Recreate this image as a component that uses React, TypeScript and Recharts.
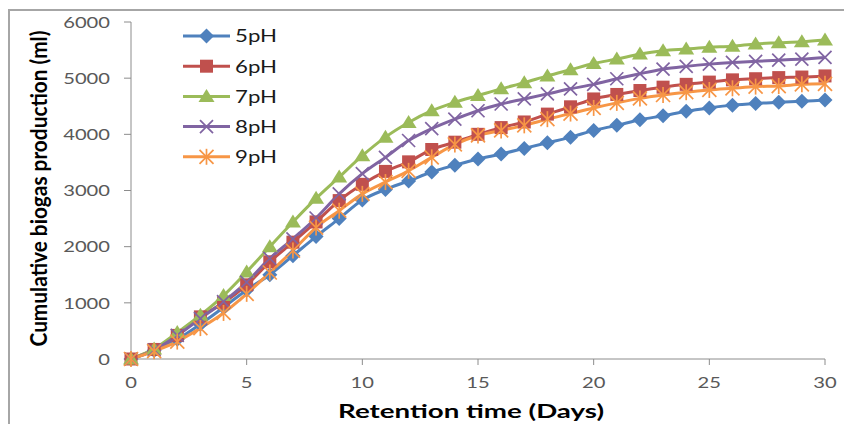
import React from "react";
import { LineChart, Line, XAxis, YAxis, Legend } from "recharts";

const days = [0, 1, 2, 3, 4, 5, 6, 7, 8, 9, 10, 11, 12, 13, 14, 15, 16, 17, 18, 19, 20, 21, 22, 23, 24, 25, 26, 27, 28, 29, 30];
const ph5 = [0, 150, 350, 620, 920, 1230, 1500, 1840, 2180, 2500, 2830, 3020, 3170, 3330, 3450, 3560, 3650, 3750, 3850, 3950, 4070, 4160, 4260, 4330, 4410, 4470, 4520, 4550, 4570, 4590, 4610];
const ph6 = [0, 170, 420, 750, 1000, 1320, 1730, 2080, 2440, 2820, 3110, 3340, 3510, 3730, 3860, 4000, 4120, 4220, 4360, 4490, 4630, 4710, 4780, 4840, 4890, 4930, 4970, 4990, 5010, 5020, 5040];
const ph7 = [0, 180, 470, 780, 1130, 1550, 2000, 2440, 2860, 3240, 3620, 3950, 4210, 4420, 4570, 4690, 4810, 4920, 5040, 5150, 5260, 5340, 5430, 5490, 5520, 5550, 5570, 5610, 5630, 5650, 5680];
const ph8 = [0, 160, 420, 720, 1020, 1370, 1790, 2140, 2510, 2940, 3300, 3590, 3890, 4100, 4270, 4420, 4540, 4630, 4720, 4810, 4890, 4990, 5080, 5160, 5210, 5250, 5280, 5300, 5320, 5340, 5370];
const ph9 = [0, 140, 310, 550, 820, 1160, 1540, 1930, 2340, 2640, 2940, 3150, 3350, 3590, 3820, 3980, 4070, 4160, 4270, 4370, 4470, 4560, 4640, 4700, 4750, 4790, 4820, 4850, 4860, 4890, 4900];

const seriesNames = ["5pH", "6pH", "7pH", "8pH", "9pH"];
const seriesKeys = ["ph5", "ph6", "ph7", "ph8", "ph9"];
const seriesColors = ["#4F81BD", "#C0504D", "#9BBB59", "#8064A2", "#F79646"];
const seriesShapes = ["diamond", "square", "triangle", "x", "star"];

const xTicks = [0, 5, 10, 15, 20, 25, 30];
const yTicks = [0, 1000, 2000, 3000, 4000, 5000, 6000];

const xTitle = "Retention time (Days)";
const yTitle = "Cumulative biogas production (ml)";

const data = days.map((d, i) => ({
  day: d,
  ph5: ph5[i],
  ph6: ph6[i],
  ph7: ph7[i],
  ph8: ph8[i],
  ph9: ph9[i],
}));

const FONT = "Lato, 'Open Sans', sans-serif";

function Marker({ shape, cx, cy, color }: { shape: string; cx: number; cy: number; color: string }) {
  if (cx == null || cy == null || isNaN(cx) || isNaN(cy)) return null;
  switch (shape) {
    case "diamond": {
      const s = 7.5;
      return <polygon points={`${cx},${cy - s} ${cx + s},${cy} ${cx},${cy + s} ${cx - s},${cy}`} fill={color} />;
    }
    case "square": {
      const s = 6.5;
      return <rect x={cx - s} y={cy - s} width={2 * s} height={2 * s} fill={color} />;
    }
    case "triangle": {
      return <polygon points={`${cx},${cy - 7.5} ${cx + 8},${cy + 5.5} ${cx - 8},${cy + 5.5}`} fill={color} />;
    }
    case "x": {
      const s = 6.5;
      return (
        <g stroke={color} strokeWidth={1.7}>
          <line x1={cx - s} y1={cy - s} x2={cx + s} y2={cy + s} />
          <line x1={cx - s} y1={cy + s} x2={cx + s} y2={cy - s} />
        </g>
      );
    }
    case "star": {
      const s = 7;
      return (
        <g stroke={color} strokeWidth={1.7}>
          <line x1={cx - s} y1={cy - s} x2={cx + s} y2={cy + s} />
          <line x1={cx - s} y1={cy + s} x2={cx + s} y2={cy - s} />
          <line x1={cx} y1={cy - s - 1} x2={cx} y2={cy + s + 1} />
        </g>
      );
    }
  }
  return null;
}

const YTick = (props: any) => {
  const { x, y, payload } = props;
  const label = String(payload.value);
  return (
    <text x={x} y={y} dy="0.36em" textAnchor="end" fontFamily={FONT} fontSize={16} fill="#595959"
      textLength={label.length * 11.7} lengthAdjust="spacingAndGlyphs">
      {label}
    </text>
  );
};

const XTick = (props: any) => {
  const { x, y, payload } = props;
  const label = String(payload.value);
  return (
    <text x={x} y={y} dy="0.71em" textAnchor="middle" fontFamily={FONT} fontSize={16} fill="#595959"
      textLength={label.length * 11.7} lengthAdjust="spacingAndGlyphs">
      {label}
    </text>
  );
};

const renderLegend = () => (
  <svg width={120} height={160} style={{ display: "block" }}>
    {seriesNames.map((name, i) => {
      const cy = 16 + i * 30.2;
      return (
        <g key={name}>
          <line x1={8} y1={cy} x2={55} y2={cy} stroke={seriesColors[i]} strokeWidth={3} />
          <Marker shape={seriesShapes[i]} cx={31.5} cy={cy} color={seriesColors[i]} />
          <text x={60} y={cy + 6.3} fontFamily={FONT} fontSize={18} fill="#1a1a1a" textLength={42} lengthAdjust="spacingAndGlyphs">
            {name}
          </text>
        </g>
      );
    })}
  </svg>
);

export default function App() {
  return (
    <div style={{ position: "absolute", left: 0, top: 0, width: 844, height: 424, background: "#fff", overflow: "hidden" }}>
      <div style={{ position: "absolute", left: 8, top: 9, width: 900, height: 500, borderTop: "2px solid #a6a6a6", borderLeft: "2px solid #a6a6a6" }} />
      <div style={{ position: "absolute", left: 0, top: 0 }}>
        <LineChart width={844} height={424} data={data} margin={{ top: 22, right: 19, bottom: 0, left: 0 }}>
          <XAxis
            dataKey="day"
            type="number"
            domain={[0, 30]}
            ticks={xTicks}
            interval={0}
            height={65}
            stroke="#8c8c8c"
            tickSize={6}
            tickMargin={12}
            tick={<XTick />}
            label={{
              content: () => (
                <text x={471} y={418} textAnchor="middle" fontFamily={FONT} fontWeight={700} fontSize={18.5} fill="#000"
                  textLength={266} lengthAdjust="spacingAndGlyphs">
                  {xTitle}
                </text>
              ),
            }}
          />
          <YAxis
            type="number"
            domain={[0, 6000]}
            ticks={yTicks}
            interval={0}
            width={131}
            stroke="#8c8c8c"
            tickSize={7}
            tickMargin={14}
            tick={<YTick />}
            label={{
              content: () => (
                <text transform="translate(47,188.5) scale(1.35,1) rotate(-90)" textAnchor="middle" fontFamily={FONT}
                  fontWeight={700} fontSize={17.5} fill="#000" textLength={316} lengthAdjust="spacingAndGlyphs">
                  {yTitle}
                </text>
              ),
            }}
          />
          <Legend
            layout="vertical"
            align="center"
            verticalAlign="middle"
            wrapperStyle={{ position: "absolute", left: 175, top: 20, width: 120, height: 160 }}
            content={renderLegend}
          />
          {seriesKeys.map((k, i) => (
            <Line
              key={k}
              dataKey={k}
              name={seriesNames[i]}
              type="monotone"
              stroke={seriesColors[i]}
              strokeWidth={3}
              isAnimationActive={false}
              dot={(p: any) => <Marker key={`${k}-${p.index}`} shape={seriesShapes[i]} cx={p.cx} cy={p.cy} color={seriesColors[i]} />}
              activeDot={false}
            />
          ))}
        </LineChart>
      </div>
    </div>
  );
}
